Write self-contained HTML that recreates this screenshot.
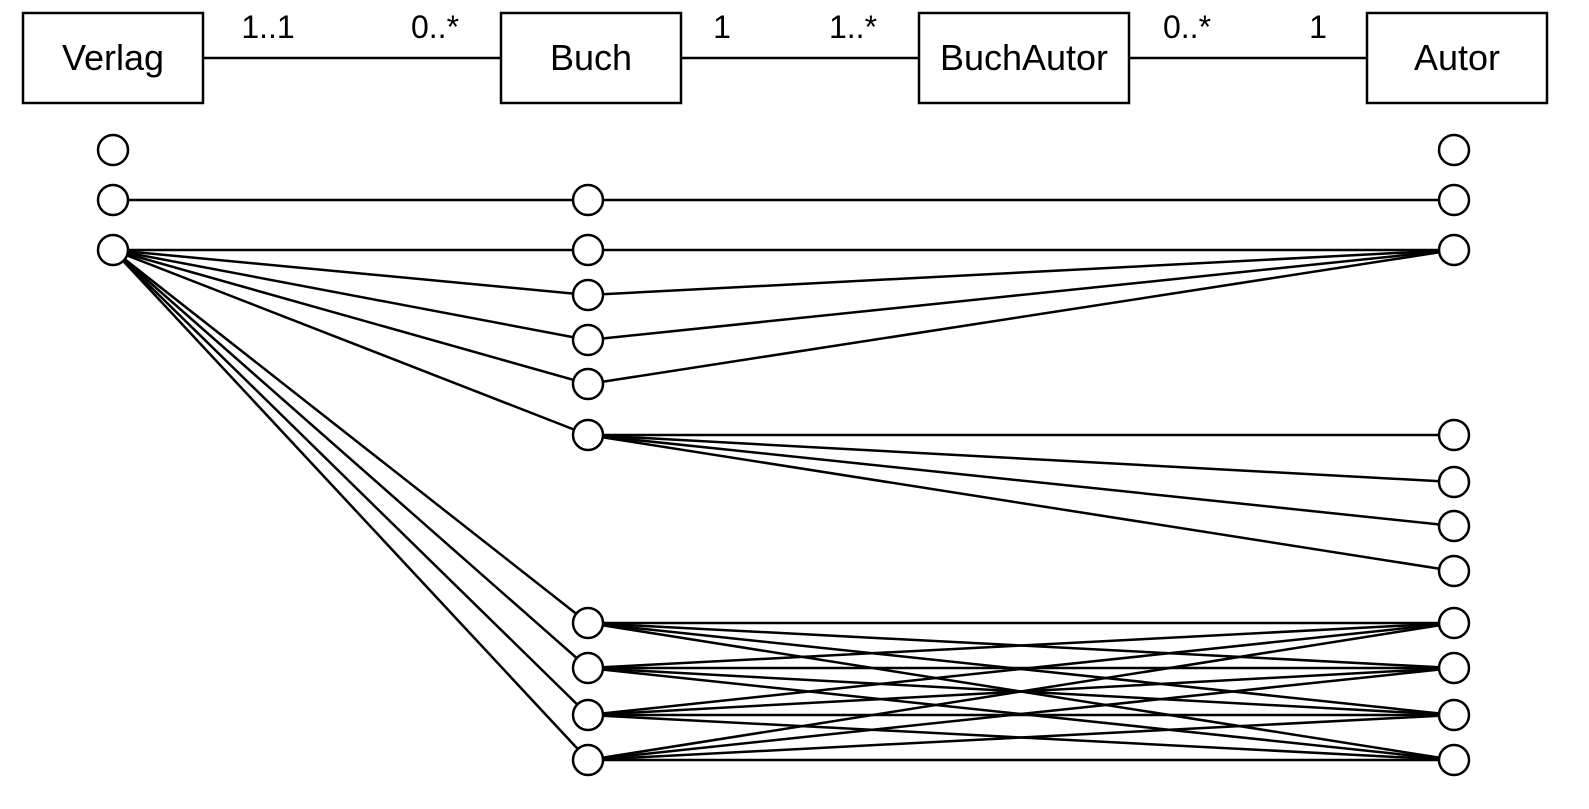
<!DOCTYPE html>
<html><head><meta charset="utf-8"><style>
html,body{margin:0;padding:0;background:#fff;}
svg{display:block;}
text{font-family:"Liberation Sans",sans-serif;font-size:32px;fill:#000;}
text.cls{font-size:36px;}
</style></head><body>
<svg id="d" width="1589" height="809" viewBox="0 0 1589 809">
<g id="top" stroke="#000" stroke-width="2.5" fill="none">
  <line x1="203" y1="58" x2="501" y2="58"/>
  <line x1="681" y1="58" x2="919" y2="58"/>
  <line x1="1129" y1="58" x2="1367" y2="58"/>
  <rect x="23" y="13" width="180" height="90" fill="#fff"/>
  <rect x="501" y="13" width="180" height="90" fill="#fff"/>
  <rect x="919" y="13" width="210" height="90" fill="#fff"/>
  <rect x="1367" y="13" width="180" height="90" fill="#fff"/>
</g>
<text class="cls" x="113" y="70" text-anchor="middle">Verlag</text>
<text class="cls" x="591" y="70" text-anchor="middle">Buch</text>
<text class="cls" x="1024" y="70" text-anchor="middle">BuchAutor</text>
<text class="cls" x="1457" y="70" text-anchor="middle">Autor</text>
<text x="268" y="38" text-anchor="middle">1..1</text>
<text x="435" y="38" text-anchor="middle">0..*</text>
<text x="722" y="38" text-anchor="middle">1</text>
<text x="853" y="38" text-anchor="middle">1..*</text>
<text x="1187" y="38" text-anchor="middle">0..*</text>
<text x="1318" y="38" text-anchor="middle">1</text>
<g id="links" stroke="#000" stroke-width="2.5"></g>
<g id="nodes" stroke="#000" stroke-width="2.5" fill="#fff"></g>
</svg>
<script>
const colX = [113, 588, 1454];
const verlagY = [150, 200, 250];
const buchY = [200, 250, 295, 340, 384, 435, 623, 668, 715, 760];
const autorY = [150, 200, 250, 435, 482, 526, 571, 623, 668, 715, 760];
const vbLinks = [[1,0],[2,1],[2,2],[2,3],[2,4],[2,5],[2,6],[2,7],[2,8],[2,9]];
const baLinks = [[0,1],[1,2],[2,2],[3,2],[4,2],[5,3],[5,4],[5,5],[5,6]];
const full = [6,7,8,9], fullA = [7,8,9,10];
full.forEach(b=>fullA.forEach(a=>baLinks.push([b,a])));
const ns="http://www.w3.org/2000/svg";
const L=document.getElementById('links'), N=document.getElementById('nodes');
function line(x1,y1,x2,y2){
  const l=document.createElementNS(ns,'line');
  l.setAttribute('x1',x1);l.setAttribute('y1',y1);l.setAttribute('x2',x2);l.setAttribute('y2',y2);
  
  
  L.appendChild(l);
}
vbLinks.forEach(([v,b])=>line(colX[0],verlagY[v],colX[1],buchY[b]));
baLinks.forEach(([b,a])=>line(colX[1],buchY[b],colX[2],autorY[a]));
function node(x,y,name){
  const c=document.createElementNS(ns,'circle');
  c.setAttribute('cx',x);c.setAttribute('cy',y);c.setAttribute('r',15);
  
  
  N.appendChild(c);
}
verlagY.forEach(y=>node(colX[0],y,'verlag-object'));
buchY.forEach(y=>node(colX[1],y,'buch-object'));
autorY.forEach(y=>node(colX[2],y,'autor-object'));
</script>
</body></html>
